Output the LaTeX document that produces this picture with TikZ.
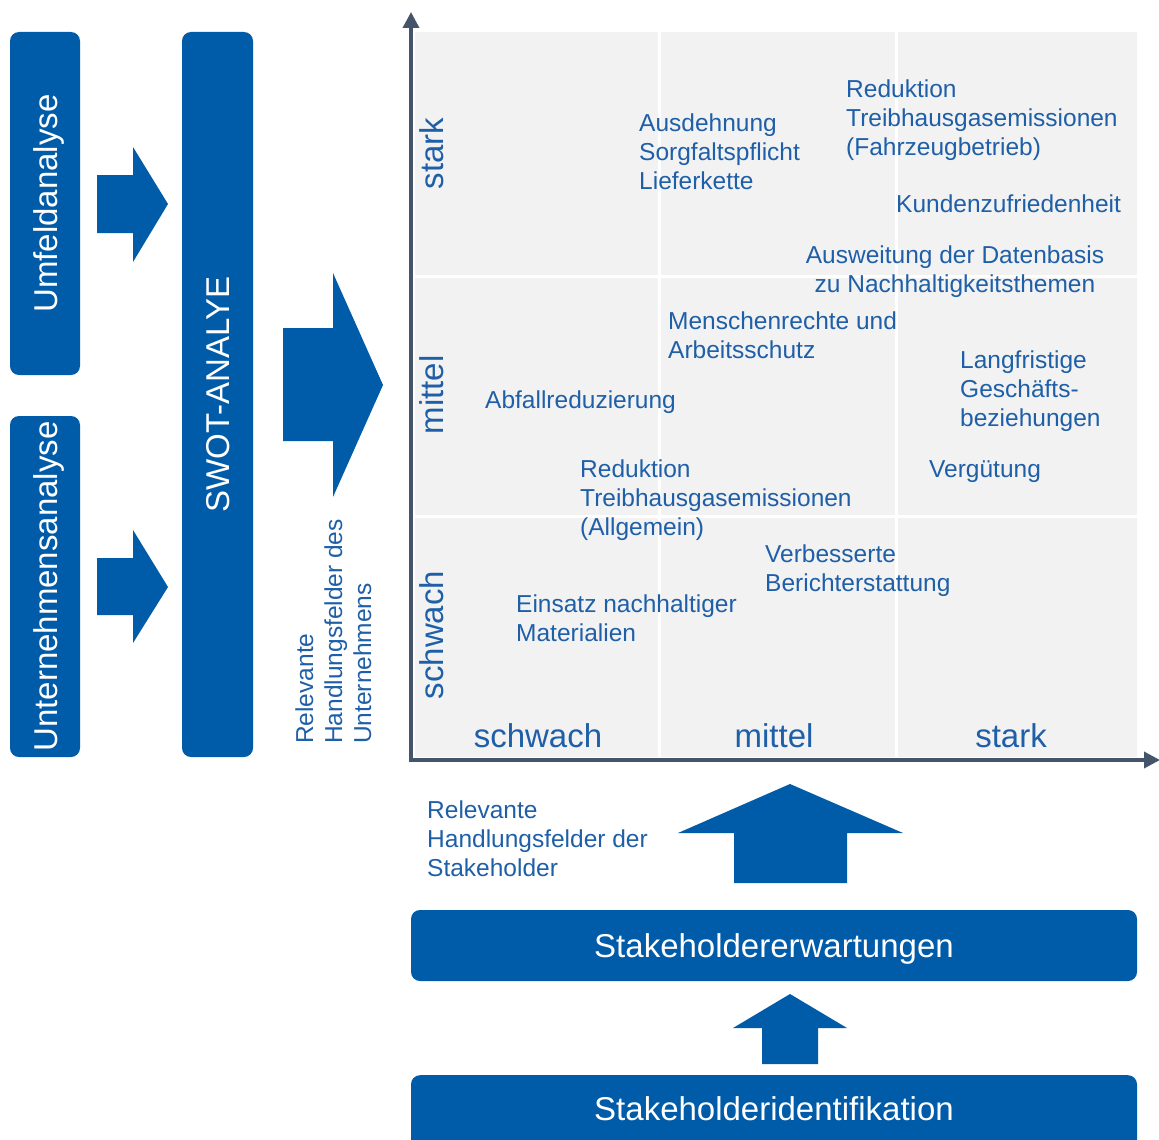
\documentclass[tikz,border=0pt]{standalone}
\usepackage{fontspec}
\setmainfont{Liberation Sans}
\usetikzlibrary{arrows.meta}
\definecolor{boxblue}{HTML}{005CA9}
\definecolor{labelblue}{HTML}{1E5FA8}
\definecolor{axisslate}{HTML}{44546A}
\definecolor{fieldgray}{HTML}{F2F2F2}
\tikzset{
  panel/.style={fill=boxblue, rounded corners=9pt, text=white, inner sep=0pt,
    font=\fontsize{33}{38}\selectfont, text height=24pt, text depth=0pt},
  panellabel/.style={text=white, inner sep=0pt, font=\fontsize{33}{38}\selectfont, anchor=base},
  % multi-line items are placed at the baseline of their last line
  item/.style={text=labelblue, inner sep=0pt, font=\fontsize{24.5}{29}\selectfont,
    align=left, anchor=base west},
  scalelabel/.style={text=labelblue, inner sep=0pt, font=\fontsize{33}{38}\selectfont, anchor=base},
  blockarrow/.style={fill=boxblue},
  axisline/.style={draw=axisslate, line width=3.5pt, line join=miter,
    {Triangle[width=16pt,length=16pt]}-{Triangle[width=16pt,length=16pt]}},
  cellline/.style={draw=white, line width=3pt},
}
\begin{document}
\begin{tikzpicture}[x=1pt,y=-1pt]
\useasboundingbox (0,0) rectangle (1159,1140);

% analysis panels on the left
\node[panel, rotate=90, minimum width=343pt, minimum height=70pt] (umfeld) at (45,203.5) {Umfeldanalyse};
\node[panel, rotate=90, minimum width=341pt, minimum height=70pt] (unternehmen) at (45,586.5) {Unternehmensanalyse};
\node[panel, rotate=90, minimum width=725pt, minimum height=71pt] (swot) at (217.5,394.5) {SWOT-ANALYE};

% block arrows into the SWOT panel and into the matrix
\fill[blockarrow] (97,175) -- (133,175) -- (133,147) -- (168,204) -- (133,262) -- (133,233) -- (97,233) -- cycle;
\fill[blockarrow] (97,558) -- (133,558) -- (133,530) -- (168,587) -- (133,643) -- (133,615) -- (97,615) -- cycle;
\fill[blockarrow] (283,328) -- (333,328) -- (333,273) -- (383,385) -- (333,497) -- (333,441) -- (283,441) -- cycle;

\node[item, rotate=90] (unternehmensfelder) at (371,744)
  {Relevante\\Handlungsfelder des\\Unternehmens};

% matrix field
\fill[fieldgray] (415,32) rectangle (1137,757);
\draw[cellline] (659,32) -- (659,757);
\draw[cellline] (896,32) -- (896,757);
\draw[cellline] (415,276) -- (1137,276);
\draw[cellline] (415,516) -- (1137,516);

% axes
\coordinate (ytip) at (411,12);
\coordinate (origin) at (411,760);
\coordinate (xtip) at (1160,760);
\draw[axisline] (ytip) -- (origin) -- (xtip);

% scale labels
\node[scalelabel, rotate=90] (ystark) at (443,153.5) {stark};
\node[scalelabel, rotate=90] (ymittel) at (443,395) {mittel};
\node[scalelabel, rotate=90] (yschwach) at (443,635) {schwach};
\node[scalelabel] (xschwach) at (538,747) {schwach};
\node[scalelabel] (xmittel) at (774,747) {mittel};
\node[scalelabel] (xstark) at (1011,747) {stark};

% fields of action
\node[item] (sorgfalt) at (639,189) {Ausdehnung\\Sorgfaltspflicht\\Lieferkette};
\node[item] (thgbetrieb) at (846,155) {Reduktion\\Treibhausgasemissionen\\(Fahrzeugbetrieb)};
\node[item] (kunden) at (896,212) {Kundenzufriedenheit};
\node[item, align=center, anchor=base] (daten) at (955,292) {Ausweitung der Datenbasis\\zu Nachhaltigkeitsthemen};
\node[item] (menschen) at (668,358) {Menschenrechte und\\Arbeitsschutz};
\node[item] (beziehungen) at (960,426) {Langfristige\\Geschäfts-\\beziehungen};
\node[item] (abfall) at (485,408) {Abfallreduzierung};
\node[item] (thgallg) at (580,535) {Reduktion\\Treibhausgasemissionen\\(Allgemein)};
\node[item] (verguetung) at (929,477) {Vergütung};
\node[item] (bericht) at (765,591) {Verbesserte\\Berichterstattung};
\node[item] (material) at (516,641) {Einsatz nachhaltiger\\Materialien};

% stakeholder part
\fill[blockarrow] (734,883) -- (734,833) -- (678,833) -- (790,784) -- (903,833) -- (847,833) -- (847,883) -- cycle;
\node[item] (stakefelder) at (427,876) {Relevante\\Handlungsfelder der\\Stakeholder};

\node[panel, minimum width=726pt, minimum height=71pt] (erwartungen) at (774,945.5) {Stakeholdererwartungen};
\fill[blockarrow] (762,1064) -- (762,1028) -- (733,1028) -- (790,994) -- (847,1028) -- (818,1028) -- (818,1064) -- cycle;
\node[panel, minimum width=726pt, minimum height=80pt, anchor=north] (identifikation) at (774,1075) {};
\node[panellabel] (identlabel) at (774,1120) {Stakeholderidentifikation};
\end{tikzpicture}
\end{document}
